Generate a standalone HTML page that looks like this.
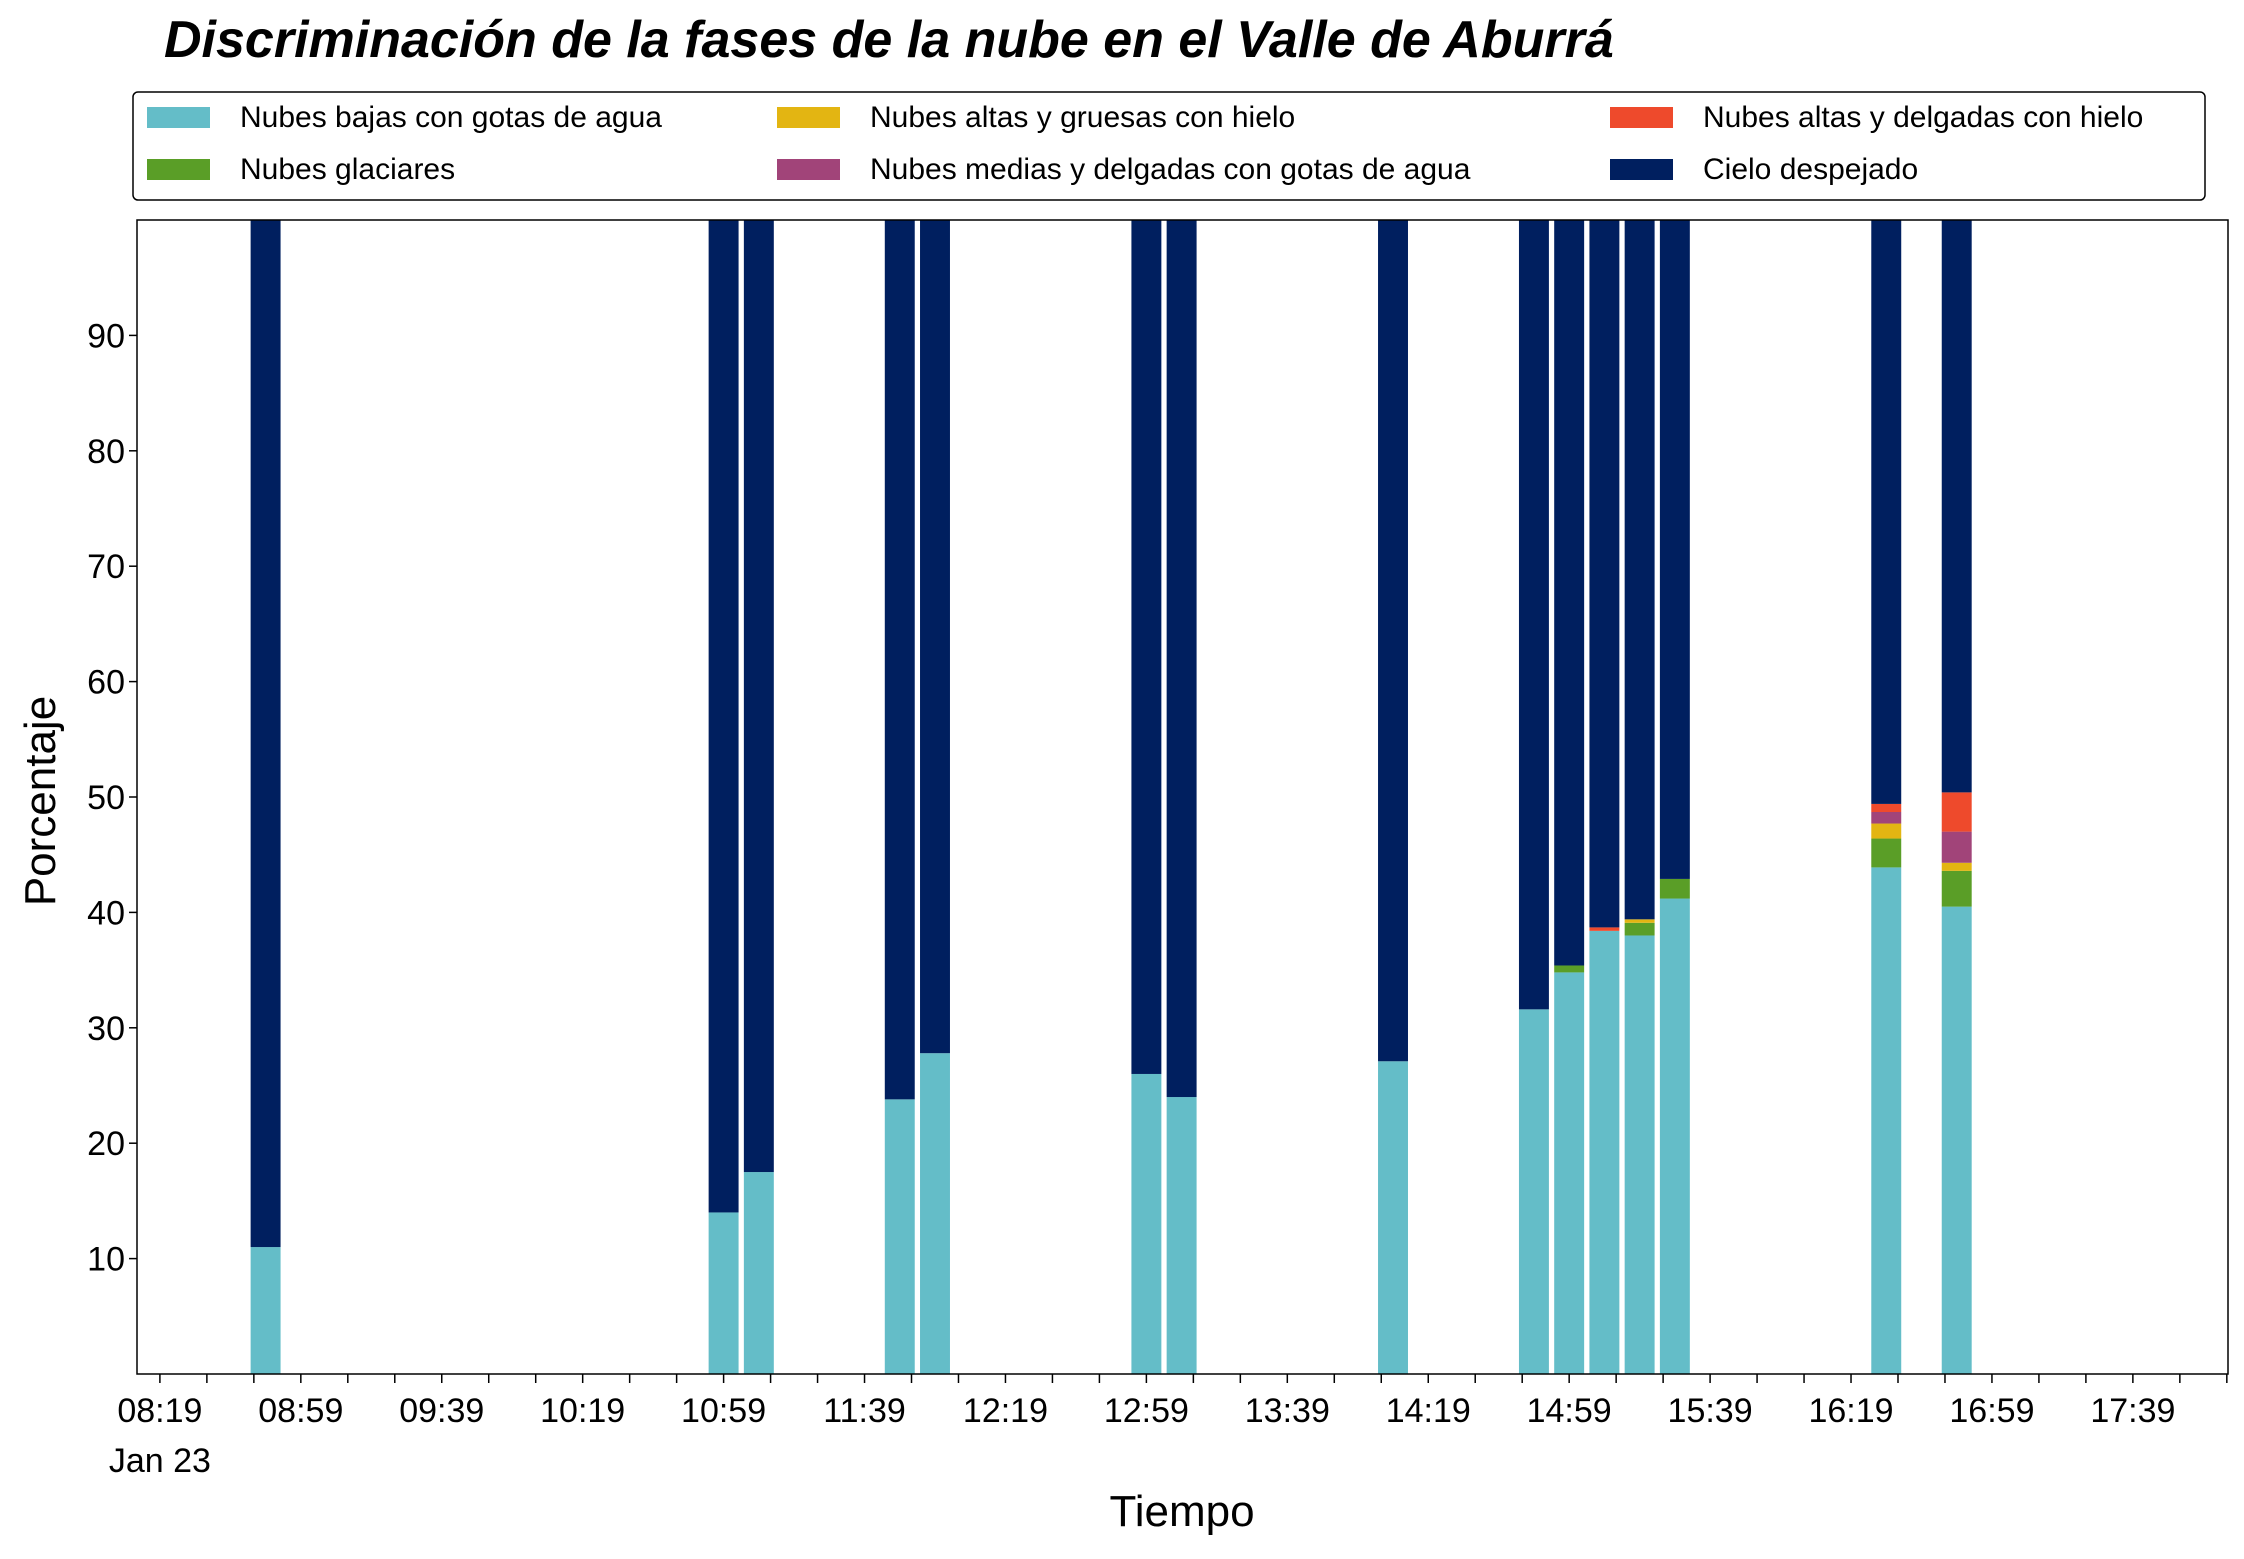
<!DOCTYPE html>
<html><head><meta charset="utf-8"><style>
html,body{margin:0;padding:0;background:#fff}
svg{display:block;font-family:"Liberation Sans",sans-serif}
</style></head><body>
<svg id="chart" width="2244" height="1559" viewBox="0 0 2244 1559" xmlns="http://www.w3.org/2000/svg">
<rect width="2244" height="1559" fill="#fff"/>
<text x="164" y="57" font-size="52" font-weight="bold" font-style="italic" fill="#000">Discriminación de la fases de la nube en el Valle de Aburrá</text>
<g id="legend">
<rect x="133" y="92" width="2072" height="108" rx="5" fill="#fff" stroke="#000" stroke-width="1.5"/>
</g>
<g id="bars"></g>
<g id="axes"></g>
<text x="1182" y="1526" font-size="44" text-anchor="middle" fill="#000">Tiempo</text>
<text transform="translate(55,801) rotate(-90)" font-size="44" text-anchor="middle" fill="#000">Porcentaje</text>
</svg>
<script>
const times = ["08:49","10:59","11:09","11:49","11:59","12:59","13:09","14:09","14:49","14:59","15:09","15:19","15:29","16:29","16:49"];
const lowWater = [11,14,17.5,23.8,27.8,26,24,27.1,31.6,34.8,38.4,38.0,41.2,43.9,40.5];
const glacial = [0,0,0,0,0,0,0,0,0,0.6,0,1.1,1.7,2.5,3.1];
const highThick = [0,0,0,0,0,0,0,0,0,0,0,0.3,0,1.3,0.7];
const midThin = [0,0,0,0,0,0,0,0,0,0,0,0,0,1.0,2.7];
const highThin = [0,0,0,0,0,0,0,0,0,0,0.3,0,0,0.7,3.4];
const yTicks = [10,20,30,40,50,60,70,80,90];
const xTickLabels = ["08:19","08:59","09:39","10:19","10:59","11:39","12:19","12:59","13:39","14:19","14:59","15:39","16:19","16:59","17:39"];
const seriesNames = ["Nubes bajas con gotas de agua","Nubes glaciares","Nubes altas y gruesas con hielo","Nubes medias y delgadas con gotas de agua","Nubes altas y delgadas con hielo","Cielo despejado"];
const seriesColors = ["#64BDC8","#5A9E27","#E3B512","#A14479","#EE4A2C","#001F5F"];

const NS="http://www.w3.org/2000/svg";
const L=137,R=2228,T=220,B=1374;
const tMin=8*60+12.5, tMax=18*60+6;
function toMin(s){const p=s.split(":");return +p[0]*60+ +p[1];}
function xs(m){return L+(m-tMin)/(tMax-tMin)*(R-L);}
function ys(v){return B-v/100*(B-T);}
function mk(tag,attrs,parent){const e=document.createElementNS(NS,tag);for(const k in attrs)e.setAttribute(k,attrs[k]);parent.appendChild(e);return e;}

const bars=document.getElementById('bars');
const bw=(xs(8.5)-xs(0));
times.forEach((t,i)=>{
  const cx=xs(toMin(t));
  const vals=[lowWater[i],glacial[i],highThick[i],midThin[i],highThin[i]];
  let acc=0;
  vals.forEach((v,k)=>{
    if(v<=0)return;
    const r=mk('rect',{x:cx-bw/2,y:ys(acc+v),width:bw,height:ys(acc)-ys(acc+v),fill:seriesColors[k]},bars);
    
    
    acc+=v;
  });
  const r=mk('rect',{x:cx-bw/2,y:ys(100),width:bw,height:ys(acc)-ys(100),fill:seriesColors[5]},bars);
  
  
});

const ax=document.getElementById('axes');
const frame=mk('rect',{x:L,y:T,width:R-L,height:B-T,fill:"none",stroke:"#000","stroke-width":1.5},ax);


yTicks.forEach(v=>{
  const y=ys(v);
  mk('line',{x1:L-8,x2:L,y1:y,y2:y,stroke:"#000","stroke-width":1.5},ax);
  const tx=mk('text',{x:L-12,y:y+12,"font-size":34,"text-anchor":"end",fill:"#000"},ax);
  tx.textContent=v;
  
  
});
const m0=toMin(xTickLabels[0]);
for(let k=-1;k<=46;k++){
  const m=m0+k*40/3;
  if(m<tMin||m>tMax)continue;
  const x=xs(m);
  mk('line',{x1:x,x2:x,y1:B,y2:B+9,stroke:"#000","stroke-width":1.5},ax);
}
xTickLabels.forEach(s=>{
  const x=xs(toMin(s));
  const tx=mk('text',{x:x,y:1422,"font-size":34,"text-anchor":"middle",fill:"#000"},ax);
  tx.textContent=s;
  
  
});
const jan=mk('text',{x:xs(m0),y:1472,"font-size":34,"text-anchor":"middle",fill:"#000"},ax);
jan.textContent="Jan 23";



const lg=document.getElementById('legend');
const colX=[147,777,1610], rowY=[117,169];
const order=[[0,0,0],[1,1,0],[2,0,1],[3,1,1],[4,0,2],[5,1,2]];
order.forEach(([si,row,col])=>{
  const g=mk('g',{},lg);
  
  
  mk('rect',{x:colX[col],y:rowY[row]-10,width:63,height:21,fill:seriesColors[si]},g);
  const tx=mk('text',{x:colX[col]+93,y:rowY[row]+10,"font-size":30,fill:"#000"},g);
  tx.textContent=seriesNames[si];
});
</script>
</body></html>
